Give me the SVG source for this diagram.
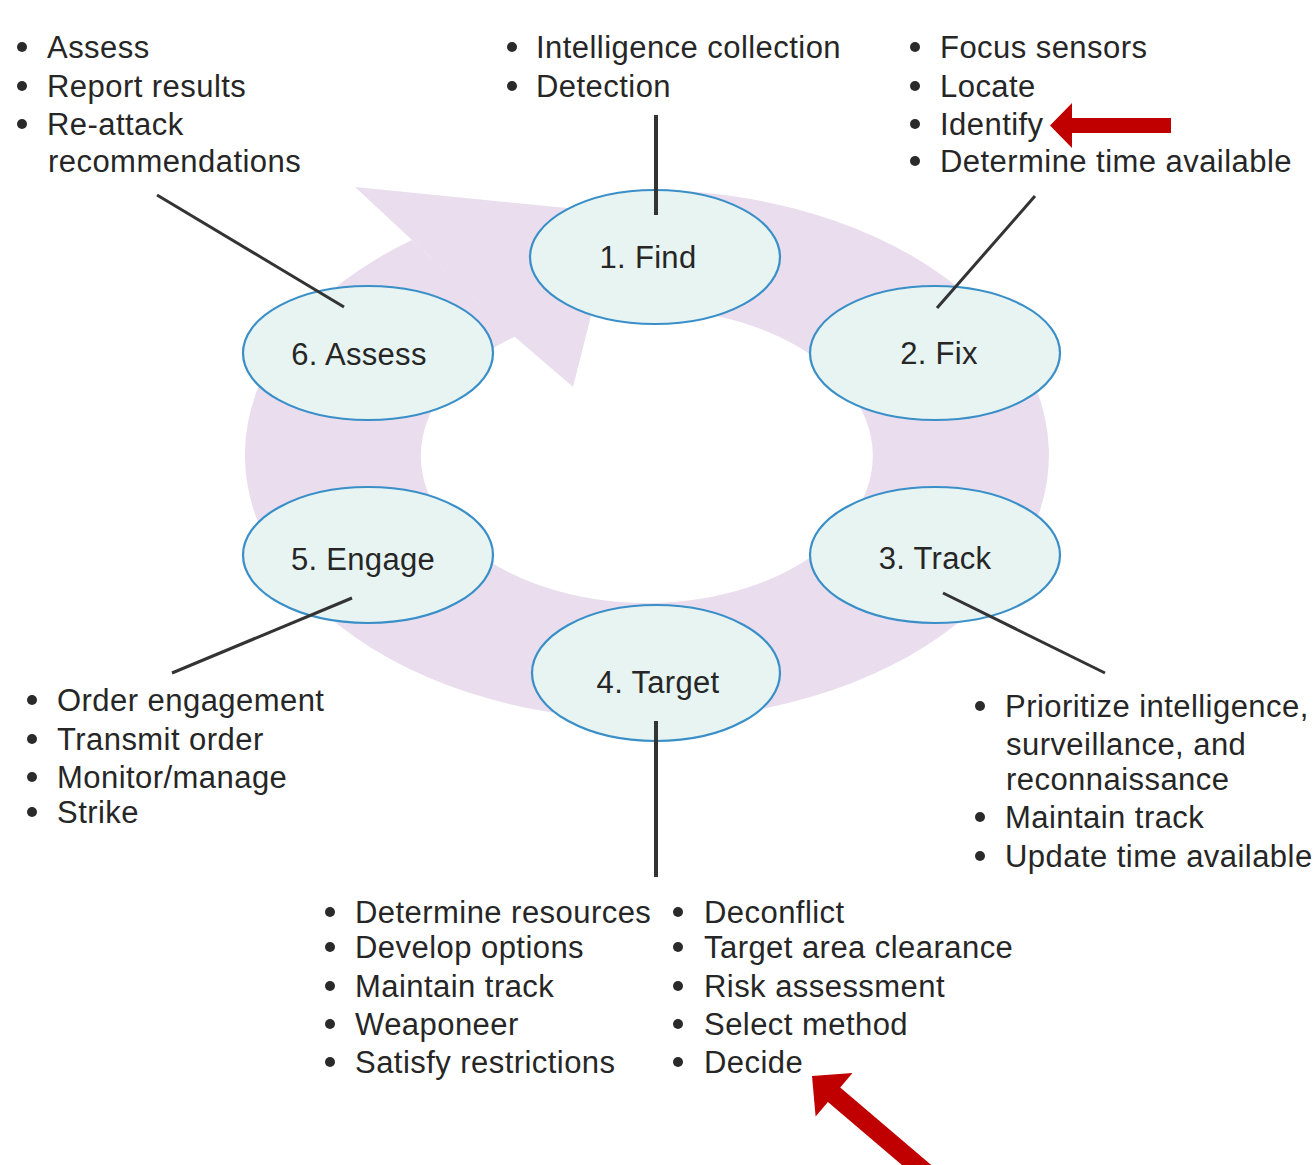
<svg xmlns="http://www.w3.org/2000/svg" width="1315" height="1165" viewBox="0 0 1315 1165">
  <style>
    .txt { font-family: "Liberation Sans", Arial, sans-serif; font-size: 31px; fill: #262626; letter-spacing: 0.45px; }
    .lbl { font-family: "Liberation Sans", Arial, sans-serif; font-size: 31px; fill: #262626; text-anchor: middle; letter-spacing: 0.3px; }
    .node { fill: #e7f4f2; stroke: #3a8fc8; stroke-width: 2.2; }
    .ring { fill: #e9ddee; }
    .conn { stroke: #333333; stroke-width: 3; fill: none; }
    .conn-v { stroke: #333333; stroke-width: 4; fill: none; }
    .dot { fill: #2a2a2a; }
    .red { fill: #c00000; }
  </style>

  <rect x="0" y="0" width="1315" height="1165" fill="#ffffff"/>

  <!-- circular flow band with arrowhead -->
  <g id="cycle-band">
    <path class="ring" d="M 655,190.1 A 402 265 0 1 1 412,240 L 515,336.5 A 226 147 0 1 0 655,309 Z"/>
    <polygon class="ring" points="412,240 355,187 617,213 573,387 515,337"/>
  </g>

  <!-- nodes -->
  <g id="node-find">
    <ellipse class="node" cx="655" cy="257" rx="125" ry="67"/>
    <text class="lbl" x="648" y="268">1. Find</text>
  </g>
  <g id="node-fix">
    <ellipse class="node" cx="935" cy="353" rx="125" ry="67"/>
    <text class="lbl" x="939" y="364">2. Fix</text>
  </g>
  <g id="node-track">
    <ellipse class="node" cx="935" cy="555" rx="125" ry="68"/>
    <text class="lbl" x="935" y="569">3. Track</text>
  </g>
  <g id="node-target">
    <ellipse class="node" cx="656" cy="673" rx="124" ry="68"/>
    <text class="lbl" x="658" y="693">4. Target</text>
  </g>
  <g id="node-engage">
    <ellipse class="node" cx="368" cy="555" rx="125" ry="68"/>
    <text class="lbl" x="363" y="570">5. Engage</text>
  </g>
  <g id="node-assess">
    <ellipse class="node" cx="368" cy="353" rx="125" ry="67"/>
    <text class="lbl" x="359" y="365">6. Assess</text>
  </g>

  <!-- leader lines from the nodes to their task lists (drawn over the nodes) -->
  <g id="connectors">
    <line class="conn-v" x1="656" y1="115" x2="656" y2="215"/>
    <line class="conn" x1="1035" y1="196" x2="937" y2="308"/>
    <line class="conn" x1="157" y1="195" x2="344" y2="307"/>
    <line class="conn" x1="943" y1="593" x2="1105" y2="673"/>
    <line class="conn" x1="352" y1="598" x2="172" y2="673"/>
    <line class="conn-v" x1="656" y1="721" x2="656" y2="877"/>
  </g>

  <!-- task list: assess -->
  <g id="list-assess">
    <circle class="dot" cx="22" cy="47" r="5"/>
    <circle class="dot" cx="22" cy="86" r="5"/>
    <circle class="dot" cx="22" cy="124" r="5"/>
    <text class="txt" x="47" y="58">Assess</text>
    <text class="txt" x="47" y="97">Report results</text>
    <text class="txt" x="47" y="135">Re-attack</text>
    <text class="txt" x="48" y="172">recommendations</text>
  </g>

  <!-- task list: find -->
  <g id="list-find">
    <circle class="dot" cx="512" cy="47" r="5"/>
    <circle class="dot" cx="512" cy="86" r="5"/>
    <text class="txt" x="536" y="58">Intelligence collection</text>
    <text class="txt" x="536" y="97">Detection</text>
  </g>

  <!-- task list: fix -->
  <g id="list-fix">
    <circle class="dot" cx="915" cy="47" r="5"/>
    <circle class="dot" cx="915" cy="86" r="5"/>
    <circle class="dot" cx="915" cy="124" r="5"/>
    <circle class="dot" cx="915" cy="161" r="5"/>
    <text class="txt" x="940" y="58">Focus sensors</text>
    <text class="txt" x="940" y="97">Locate</text>
    <text class="txt" x="940" y="135">Identify</text>
    <text class="txt" x="940" y="172">Determine time available</text>
  </g>

  <!-- task list: track -->
  <g id="list-track">
    <circle class="dot" cx="980" cy="706" r="5"/>
    <circle class="dot" cx="980" cy="817" r="5"/>
    <circle class="dot" cx="980" cy="856" r="5"/>
    <text class="txt" x="1005" y="717">Prioritize intelligence,</text>
    <text class="txt" x="1006" y="755">surveillance, and</text>
    <text class="txt" x="1006" y="790">reconnaissance</text>
    <text class="txt" x="1005" y="828">Maintain track</text>
    <text class="txt" x="1005" y="867">Update time available</text>
  </g>

  <!-- task list: engage -->
  <g id="list-engage">
    <circle class="dot" cx="32" cy="700" r="5"/>
    <circle class="dot" cx="32" cy="739" r="5"/>
    <circle class="dot" cx="32" cy="777" r="5"/>
    <circle class="dot" cx="32" cy="812" r="5"/>
    <text class="txt" x="57" y="711">Order engagement</text>
    <text class="txt" x="57" y="750">Transmit order</text>
    <text class="txt" x="57" y="788">Monitor/manage</text>
    <text class="txt" x="57" y="823">Strike</text>
  </g>

  <!-- task list: target (two columns) -->
  <g id="list-target">
    <circle class="dot" cx="330" cy="912" r="5"/>
    <circle class="dot" cx="330" cy="947" r="5"/>
    <circle class="dot" cx="330" cy="986" r="5"/>
    <circle class="dot" cx="330" cy="1024" r="5"/>
    <circle class="dot" cx="330" cy="1062" r="5"/>
    <text class="txt" x="355" y="923">Determine resources</text>
    <text class="txt" x="355" y="958">Develop options</text>
    <text class="txt" x="355" y="997">Maintain track</text>
    <text class="txt" x="355" y="1035">Weaponeer</text>
    <text class="txt" x="355" y="1073">Satisfy restrictions</text>
    <circle class="dot" cx="678" cy="912" r="5"/>
    <circle class="dot" cx="678" cy="947" r="5"/>
    <circle class="dot" cx="678" cy="986" r="5"/>
    <circle class="dot" cx="678" cy="1024" r="5"/>
    <circle class="dot" cx="678" cy="1062" r="5"/>
    <text class="txt" x="704" y="923">Deconflict</text>
    <text class="txt" x="704" y="958">Target area clearance</text>
    <text class="txt" x="704" y="997">Risk assessment</text>
    <text class="txt" x="704" y="1035">Select method</text>
    <text class="txt" x="704" y="1073">Decide</text>
  </g>

  <!-- highlight arrows -->
  <g id="highlight-identify">
    <polygon class="red" points="1050,125.5 1072,103 1072,118 1171,118 1171,133 1072,133 1072,148"/>
  </g>
  <g id="highlight-decide">
    <polygon class="red" transform="translate(812,1076) rotate(40.4)" points="0,0 29,-28.5 29,-9.5 160,-9.5 160,9.5 29,9.5 29,28.5"/>
  </g>
</svg>
